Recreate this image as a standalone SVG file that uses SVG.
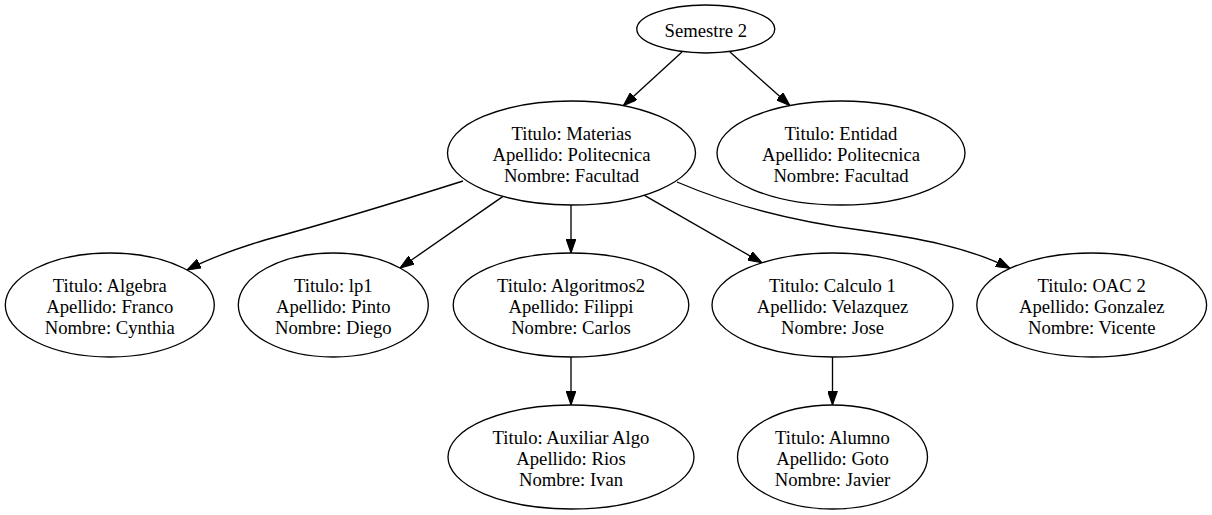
<svg xmlns="http://www.w3.org/2000/svg" width="1212" height="515" viewBox="0 0 1212 515">
<style>
.n ellipse{fill:#fff;stroke:#000;stroke-width:1.33}
.n text{font-family:"Liberation Serif","Times New Roman",serif;font-size:18.67px;text-anchor:middle;fill:#000}
.e path{fill:none;stroke:#000;stroke-width:1.33;marker-end:url(#ah)}
</style>
<defs>
<marker id="ah" markerUnits="userSpaceOnUse" markerWidth="14" markerHeight="10" viewBox="0 0 13.33 9.33" refX="13.33" refY="4.67" orient="auto">
<path d="M0,0 L13.33,4.67 L0,9.33 Z" fill="#000" stroke="#000" stroke-width="1"/>
</marker>
</defs>
<rect width="1212" height="515" fill="#fff"/>
<g id="edges" class="e">
<path d="M682,52 L623.3,105.8"/>
<path d="M730,52 L790,105.6"/>
<path d="M463,181 C400,201 320,225 265,240 C232,250 208,259 187,270"/>
<path d="M503,196.4 L400,268"/>
<path d="M571,205 L571,253"/>
<path d="M644,195.2 L762,262.8"/>
<path d="M677,182 C740,209 800,222 860,230 C920,238 970,248 1010,268.4"/>
<path d="M571,357 L571,405"/>
<path d="M832.5,357 L832.5,405"/>
</g>
<g id="semestre2" class="n"><ellipse cx="705.8" cy="29" rx="69" ry="24"/><text x="705.8" y="36.5">Semestre 2</text></g>
<g id="materias" class="n"><ellipse cx="571.5" cy="153" rx="124" ry="52"/><text x="571.5" y="139.5">Titulo: Materias</text><text x="571.5" y="160.5">Apellido: Politecnica</text><text x="571.5" y="181.5">Nombre: Facultad</text></g>
<g id="entidad" class="n"><ellipse cx="841" cy="153" rx="124" ry="52"/><text x="841" y="139.5">Titulo: Entidad</text><text x="841" y="160.5">Apellido: Politecnica</text><text x="841" y="181.5">Nombre: Facultad</text></g>
<g id="algebra" class="n"><ellipse cx="109.8" cy="305" rx="104.5" ry="52"/><text x="109.8" y="291.5">Titulo: Algebra</text><text x="109.8" y="312.5">Apellido: Franco</text><text x="109.8" y="333.5">Nombre: Cynthia</text></g>
<g id="lp1" class="n"><ellipse cx="333.3" cy="305" rx="95" ry="52"/><text x="333.3" y="291.5">Titulo: lp1</text><text x="333.3" y="312.5">Apellido: Pinto</text><text x="333.3" y="333.5">Nombre: Diego</text></g>
<g id="algoritmos2" class="n"><ellipse cx="571" cy="305" rx="117.8" ry="52"/><text x="571" y="291.5">Titulo: Algoritmos2</text><text x="571" y="312.5">Apellido: Filippi</text><text x="571" y="333.5">Nombre: Carlos</text></g>
<g id="calculo1" class="n"><ellipse cx="832.5" cy="305" rx="120.5" ry="52"/><text x="832.5" y="291.5">Titulo: Calculo 1</text><text x="832.5" y="312.5">Apellido: Velazquez</text><text x="832.5" y="333.5">Nombre: Jose</text></g>
<g id="oac2" class="n"><ellipse cx="1091.7" cy="305" rx="114.9" ry="52"/><text x="1091.7" y="291.5">Titulo: OAC 2</text><text x="1091.7" y="312.5">Apellido: Gonzalez</text><text x="1091.7" y="333.5">Nombre: Vicente</text></g>
<g id="auxiliaralgo" class="n"><ellipse cx="571" cy="457" rx="123" ry="52"/><text x="571" y="443.5">Titulo: Auxiliar Algo</text><text x="571" y="464.5">Apellido: Rios</text><text x="571" y="485.5">Nombre: Ivan</text></g>
<g id="alumno" class="n"><ellipse cx="832.5" cy="457" rx="95" ry="52"/><text x="832.5" y="443.5">Titulo: Alumno</text><text x="832.5" y="464.5">Apellido: Goto</text><text x="832.5" y="485.5">Nombre: Javier</text></g>
</svg>
